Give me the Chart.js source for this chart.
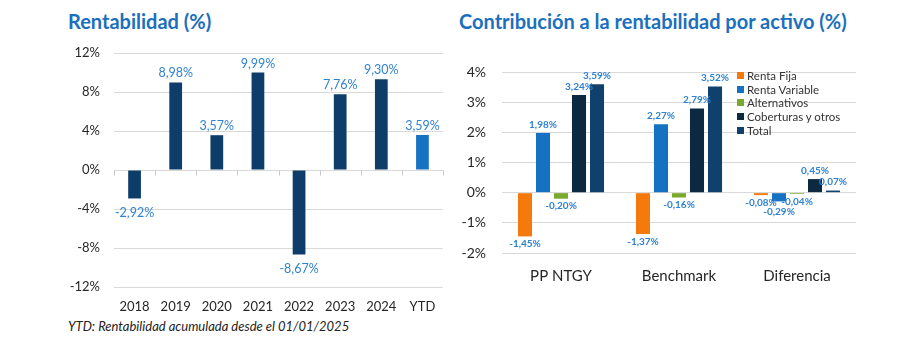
<!DOCTYPE html>
<html>
<head>
<meta charset="utf-8">
<script src="https://cdn.jsdelivr.net/npm/chart.js@4.4.1/dist/chart.umd.min.js"></script>
<style>
  html, body { margin: 0; padding: 0; background: #ffffff; }
  body { width: 906px; height: 355px; position: relative; overflow: hidden; font-family: Lato, "Open Sans", sans-serif; }
  .title { position: absolute; top: 11px; font: bold 20px/20px Lato, sans-serif; color: #1b6fbe; white-space: nowrap; }
  .note { position: absolute; left: 68px; top: 320px; font: italic 13px/13px Lato, sans-serif; color: #222; white-space: nowrap; }
  #legend { position: absolute; left: 737px; top: 69px; }
  .lg-row { height: 13.6px; display: flex; align-items: center; font: 11.5px Lato, sans-serif; color: #333; white-space: nowrap; }
  .lg-box { width: 7px; height: 7px; margin-right: 3px; }
  canvas { position: absolute; }
</style>
</head>
<body>
<div class="title" style="left:68px">Rentabilidad (%)</div>
<div class="title" style="left:459px">Contribución a la rentabilidad por activo (%)</div>
<div class="note">YTD: Rentabilidad acumulada desde el 01/01/2025</div>
<canvas id="c1" width="450" height="320" style="left:0;top:0"></canvas>
<canvas id="c2" width="456" height="300" style="left:450px;top:0"></canvas>
<div id="legend"></div>
<script>
// ---- Data ----
const years = ["2018", "2019", "2020", "2021", "2022", "2023", "2024", "YTD"];
const rentabilidad = [-2.92, 8.98, 3.57, 9.99, -8.67, 7.76, 9.30, 3.59];
const leftTicks = [-12, -8, -4, 0, 4, 8, 12];

const groups = ["PP NTGY", "Benchmark", "Diferencia"];
const seriesNames = ["Renta Fija", "Renta Variable", "Alternativos", "Coberturas y otros", "Total"];
const rentaFija = [-1.45, -1.37, -0.08];
const rentaVariable = [1.98, 2.27, -0.29];
const alternativos = [-0.20, -0.16, -0.04];
const coberturas = [3.24, 2.79, 0.45];
const total = [3.59, 3.52, 0.07];
const rightTicks = [-2, -1, 0, 1, 2, 3, 4];

// ---- Styles ----
const FONT = "Lato";
const darkBar = "#0d3d68";
const ytdBar = "#1673c4";
const labelBlue = "#2e82d2";
const seriesColors = ["#f57a0c", "#1572c2", "#79aa2c", "#0b2a42", "#0f416c"];

const fmt = v => v.toFixed(2).replace(".", ",") + "%";

function valueLabels(opts) {
  return {
    id: "valueLabels",
    afterDatasetsDraw(chart) {
      const ctx = chart.ctx;
      ctx.save();
      ctx.font = opts.font;
      ctx.fillStyle = labelBlue;
      ctx.textAlign = "center";
      ctx.textBaseline = "middle";
      const h = opts.size;
      const placed = [];
      const overlaps = b => placed.some(p => b.x1 < p.x2 && b.x2 > p.x1 && b.y1 < p.y2 && b.y2 > p.y1);
      const nCat = chart.data.labels.length;
      for (let i = 0; i < nCat; i++) {
        chart.data.datasets.forEach((ds, di) => {
          const el = chart.getDatasetMeta(di).data[i];
          const v = ds.data[i];
          const text = fmt(v);
          const w = ctx.measureText(text).width;
          let cy = v >= 0 ? el.y - opts.posGap - h / 2 : el.y + opts.negGap + h / 2;
          const dir = v >= 0 ? -1 : 1;
          let box = { x1: el.x - w / 2, x2: el.x + w / 2, y1: cy - h / 2, y2: cy + h / 2 };
          let guard = 0;
          while (overlaps(box) && guard++ < 40) {
            cy += dir;
            box = { x1: box.x1, x2: box.x2, y1: cy - h / 2, y2: cy + h / 2 };
          }
          placed.push(box);
          ctx.fillText(text, el.x, cy);
        });
      }
      ctx.restore();
    }
  };
}

const zeroTicks = {
  id: "zeroTicks",
  afterDraw(chart) {
    const { ctx, scales: { x, y } } = chart;
    const y0 = Math.round(y.getPixelForValue(0)) + 0.5;
    const n = chart.data.labels.length;
    ctx.save();
    ctx.strokeStyle = "#c8c8c8";
    ctx.lineWidth = 1;
    ctx.beginPath();
    for (let i = 0; i <= n; i++) {
      let px;
      if (i === 0) px = chart.chartArea.left;
      else if (i === n) px = chart.chartArea.right;
      else px = (x.getPixelForValue(i - 1) + x.getPixelForValue(i)) / 2;
      px = Math.round(px) + 0.5;
      ctx.moveTo(px, y0);
      ctx.lineTo(px, y0 + 5);
    }
    ctx.stroke();
    ctx.restore();
  }
};

// ---- Left chart ----
new Chart(document.getElementById("c1"), {
  type: "bar",
  data: {
    labels: years,
    datasets: [{
      data: rentabilidad,
      backgroundColor: years.map(y => y === "YTD" ? ytdBar : darkBar),
      barPercentage: 0.31,
      categoryPercentage: 1.0
    }]
  },
  options: {
    responsive: false,
    devicePixelRatio: 1,
    animation: false,
    layout: { padding: { top: 53, right: 7, left: 0, bottom: 0 } },
    plugins: { legend: { display: false }, tooltip: { enabled: false } },
    scales: {
      x: {
        grid: { display: false },
        border: { display: false },
        ticks: { font: { family: FONT, size: 13 }, color: "#262626", padding: 4, maxRotation: 0 },
        afterFit(s) { s.height = 33; }
      },
      y: {
        min: leftTicks[0], max: leftTicks[leftTicks.length - 1],
        afterBuildTicks(s) { s.ticks = leftTicks.map(v => ({ value: v })); },
        grid: { color: "#d9d9d9", drawTicks: false },
        border: { display: false },
        ticks: { font: { family: FONT, size: 13 }, color: "#262626", padding: 14, callback: v => v + "%" },
        afterFit(s) { s.width = 114; }
      }
    }
  },
  plugins: [valueLabels({ font: "12.5px " + FONT, size: 10, posGap: 4, negGap: 9 }), zeroTicks]
});

// ---- Right chart ----
const seriesData = [rentaFija, rentaVariable, alternativos, coberturas, total];
new Chart(document.getElementById("c2"), {
  type: "bar",
  data: {
    labels: groups,
    datasets: seriesNames.map((name, i) => ({
      label: name,
      data: seriesData[i],
      backgroundColor: seriesColors[i],
      barPercentage: 0.78,
      categoryPercentage: 0.763
    }))
  },
  options: {
    responsive: false,
    devicePixelRatio: 1,
    animation: false,
    layout: { padding: { top: 72, right: 50, left: 0, bottom: 0 } },
    plugins: { legend: { display: false }, tooltip: { enabled: false } },
    scales: {
      x: {
        grid: { display: false },
        border: { display: false },
        ticks: { font: { family: FONT, size: 15 }, color: "#262626", padding: 6, maxRotation: 0 },
        afterFit(s) { s.height = 47; }
      },
      y: {
        min: rightTicks[0], max: rightTicks[rightTicks.length - 1],
        afterBuildTicks(s) { s.ticks = rightTicks.map(v => ({ value: v })); },
        grid: { color: "#d9d9d9", drawTicks: false },
        border: { display: false },
        ticks: { font: { family: FONT, size: 14 }, color: "#262626", padding: 16, callback: v => v + "%" },
        afterFit(s) { s.width = 52; }
      }
    }
  },
  plugins: [valueLabels({ font: "bold 10px " + FONT, size: 9, posGap: 4, negGap: 3 })]
});

// ---- Legend (HTML, from series arrays) ----
const lg = document.getElementById("legend");
seriesNames.forEach((name, i) => {
  const row = document.createElement("div");
  row.className = "lg-row";
  const box = document.createElement("span");
  box.className = "lg-box";
  box.style.background = seriesColors[i];
  const txt = document.createElement("span");
  txt.textContent = name;
  row.appendChild(box);
  row.appendChild(txt);
  lg.appendChild(row);
});
</script>
</body>
</html>
